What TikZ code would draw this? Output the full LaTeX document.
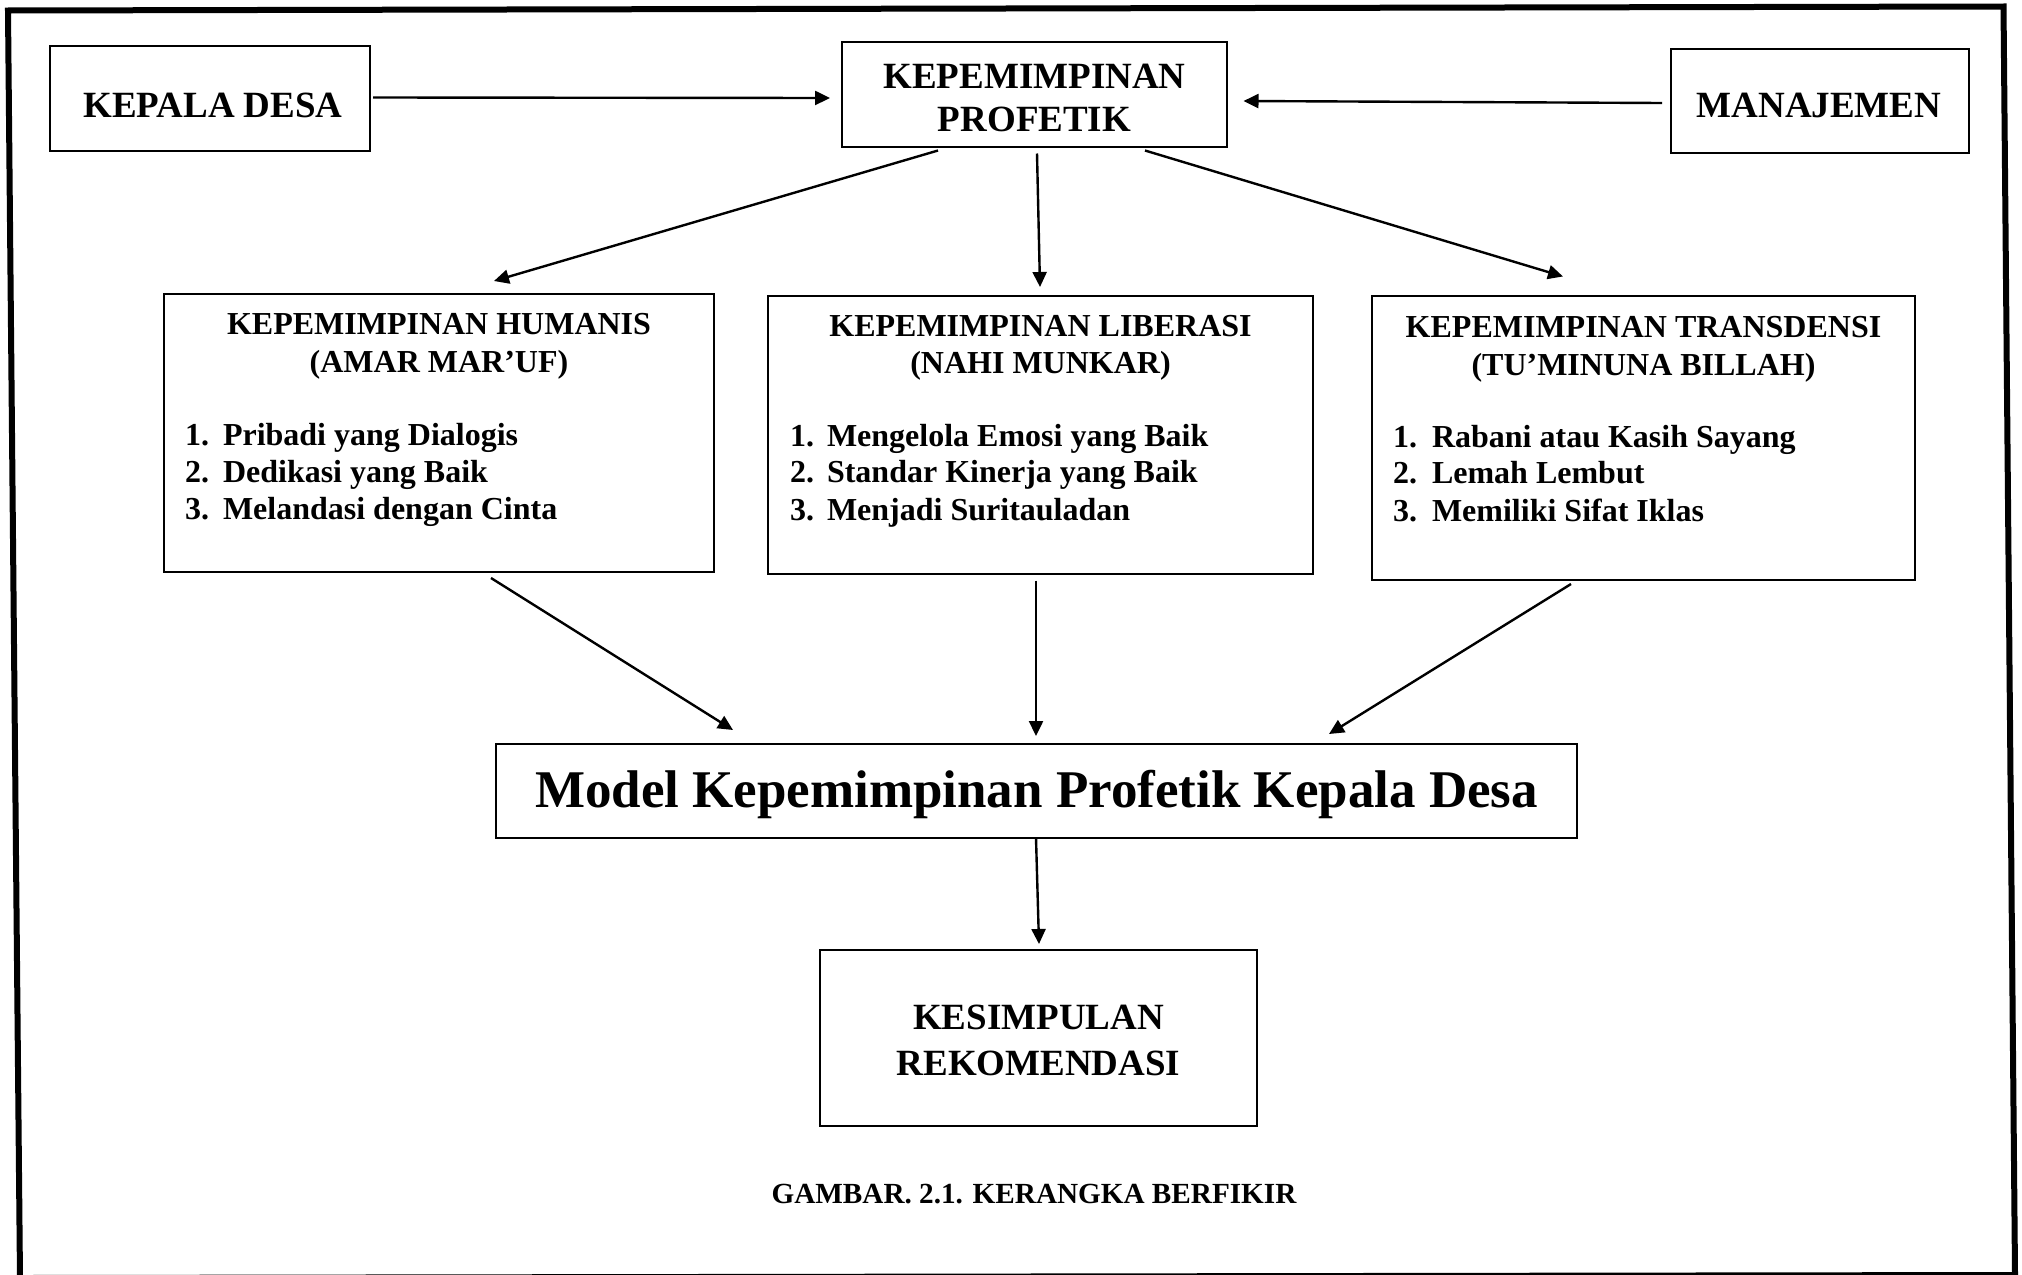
\documentclass[tikz,border=0pt]{standalone}
\usepackage{fontspec}
\setmainfont{Liberation Serif}
\usetikzlibrary{arrows.meta,calc}
\newcommand\fntA{\fontsize{18.5}{22}\selectfont\bfseries}
\newcommand\fntB{\fontsize{16}{19}\selectfont\bfseries}
\newcommand\fntC{\fontsize{26.5}{31}\selectfont\bfseries}
\newcommand\fntD{\fontsize{14.6}{17}\selectfont\bfseries}
\tikzset{
  box/.style={draw, line width=1.2pt, inner sep=0pt, outer sep=0pt},
  txt/.style={anchor=base, inner sep=0pt, outer sep=0pt},
  txtl/.style={anchor=base west, inner sep=0pt, outer sep=0pt},
  arr/.style={line width=1.2pt, -{Triangle[length=7.5pt,width=7pt]}},
  frame/.style={line width=3pt, line join=miter}
}
\begin{document}
\begin{tikzpicture}[x=0.5pt, y=-0.5pt]
\useasboundingbox (0,0) rectangle (2022,1274);
\fill[white] (0,0) rectangle (2022,1274);
% outer frame
\draw[frame] (8,10.5) -- (2003.5,6.5) -- (2015,1275) -- (20,1278) -- cycle;

% top row
\node[box, minimum width=160pt, minimum height=52.5pt] (kd) at (210,98.5) {};
\node[txt, font=\fntA] (kdT) at (213,117) {KEPALA DESA};
\node[box, minimum width=192.5pt, minimum height=52.5pt] (prof) at (1034.5,94.5) {};
\node[txt, font=\fntA] (profT1) at (1034.5,88) {KEPEMIMPINAN};
\node[txt, font=\fntA] (profT2) at (1034.5,131) {PROFETIK};
\node[box, minimum width=149pt, minimum height=52pt] (man) at (1820,101) {};
\node[txt, font=\fntA] (manT) at (1819,117) {MANAJEMEN};

% middle row
\node[box, minimum width=275pt, minimum height=139pt] (hum) at (439,433) {};
\node[txt, font=\fntB] (humT1) at (439,334) {KEPEMIMPINAN HUMANIS};
\node[txt, font=\fntB] (humT2) at (439,372) {(AMAR MAR’UF)};
\node[txtl, font=\fntB] (h1n) at (185,445) {1.};
\node[txtl, font=\fntB] (h1t) at (223,445) {Pribadi yang Dialogis};
\node[txtl, font=\fntB] (h2n) at (185,482) {2.};
\node[txtl, font=\fntB] (h2t) at (223,482) {Dedikasi yang Baik};
\node[txtl, font=\fntB] (h3n) at (185,519) {3.};
\node[txtl, font=\fntB] (h3t) at (223,519) {Melandasi dengan Cinta};

\node[box, minimum width=272.5pt, minimum height=139pt] (lib) at (1040.5,435) {};
\node[txt, font=\fntB] (libT1) at (1040.5,336) {KEPEMIMPINAN LIBERASI};
\node[txt, font=\fntB] (libT2) at (1040.5,373) {(NAHI MUNKAR)};
\node[txtl, font=\fntB] (l1n) at (790,446) {1.};
\node[txtl, font=\fntB] (l1t) at (827,446) {Mengelola Emosi yang Baik};
\node[txtl, font=\fntB] (l2n) at (790,482) {2.};
\node[txtl, font=\fntB] (l2t) at (827,482) {Standar Kinerja yang Baik};
\node[txtl, font=\fntB] (l3n) at (790,520) {3.};
\node[txtl, font=\fntB] (l3t) at (827,520) {Menjadi Suritauladan};

\node[box, minimum width=271.5pt, minimum height=142pt] (tra) at (1643.5,438) {};
\node[txt, font=\fntB] (traT1) at (1643.5,337) {KEPEMIMPINAN TRANSDENSI};
\node[txt, font=\fntB] (traT2) at (1643.5,375) {(TU’MINUNA BILLAH)};
\node[txtl, font=\fntB] (t1n) at (1393,447) {1.};
\node[txtl, font=\fntB] (t1t) at (1432,447) {Rabani atau Kasih Sayang};
\node[txtl, font=\fntB] (t2n) at (1393,483) {2.};
\node[txtl, font=\fntB] (t2t) at (1432,483) {Lemah Lembut};
\node[txtl, font=\fntB] (t3n) at (1393,521) {3.};
\node[txtl, font=\fntB] (t3t) at (1432,521) {Memiliki Sifat Iklas};

% model
\node[box, minimum width=540.5pt, minimum height=47pt] (model) at (1036.5,791) {};
\node[txt, font=\fntC] (modelT) at (1036.5,807) {Model Kepemimpinan Profetik Kepala Desa};

% kesimpulan
\node[box, minimum width=218.5pt, minimum height=88pt] (kes) at (1038.5,1038) {};
\node[txt, font=\fntA] (kesT1) at (1038.5,1029) {KESIMPULAN};
\node[txt, font=\fntA] (kesT2) at (1038.5,1075) {REKOMENDASI};

% caption
\node[txt, font=\fntD] (cap) at (1034,1203) {GAMBAR. 2.1. KERANGKA BERFIKIR};

% arrows
\draw[arr] ($(kd.east)+(3,-1)$) -- ($(prof.west)+(-12,3.5)$);
\draw[arr] ($(man.west)+(-9,2)$) -- ($(prof.east)+(16.5,6.5)$);
\draw[arr] ($(prof.south)+(-96.5,3.5)$) -- ($(hum.north)+(55,-13)$);
\draw[arr] ($(prof.south)+(2.5,6.5)$) -- ($(lib.north)+(-0.5,-9)$);
\draw[arr] ($(prof.south)+(110.5,3.5)$) -- ($(tra.north)+(-80.5,-19.5)$);
\draw[arr] ($(hum.south)+(52,6)$) -- ($(model.north)+(-303.5,-14)$);
\draw[arr] ($(lib.south)+(-4.5,6.5)$) -- ($(model.north)+(-0.5,-8)$);
\draw[arr] ($(tra.south)+(-72.5,4)$) -- ($(model.north)+(292.5,-10)$);
\draw[arr] ($(model.south)+(-0.5,0)$) -- ($(kes.north)+(0.5,-6)$);
\end{tikzpicture}
\end{document}
